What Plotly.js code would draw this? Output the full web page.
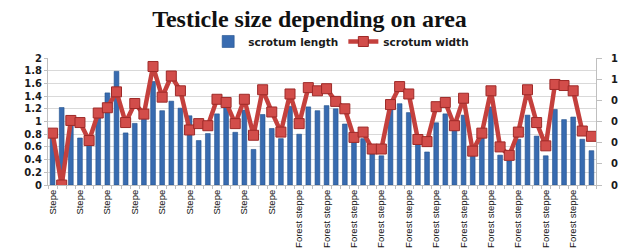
<!DOCTYPE html>
<html>
<head>
<meta charset="utf-8">
<script src="https://cdn.plot.ly/plotly-3.0.1.min.js"></script>
<style>
html,body{margin:0;padding:0;background:#fff;}
#chart{width:619px;height:248px;}
</style>
</head>
<body>
<div id="chart"></div>
<script>
// Area of each animal (60 animals)
const areas = [
  "Stepe","Stepe","Stepe","Stepe","Stepe","Stepe","Stepe","Stepe","Stepe","Stepe",
  "Stepe","Stepe","Stepe","Stepe","Stepe","Stepe","Stepe","Stepe","Stepe","Stepe",
  "Stepe","Stepe","Stepe","Stepe","Stepe","Stepe","Stepe",
  "Forest steppe","Forest steppe","Forest steppe","Forest steppe","Forest steppe","Forest steppe",
  "Forest steppe","Forest steppe","Forest steppe","Forest steppe","Forest steppe","Forest steppe",
  "Forest steppe","Forest steppe","Forest steppe","Forest steppe","Forest steppe","Forest steppe",
  "Forest steppe","Forest steppe","Forest steppe","Forest steppe","Forest steppe","Forest steppe",
  "Forest steppe","Forest steppe","Forest steppe","Forest steppe","Forest steppe","Forest steppe",
  "Forest steppe","Forest steppe","Forest steppe"
];

// scrotum length (left axis)
const scrotumLength = [
  0.76,1.22,1.00,0.74,0.68,1.08,1.45,1.79,0.82,0.97,
  1.08,1.63,1.17,1.32,1.21,1.09,0.70,0.81,1.12,1.23,
  0.83,1.18,0.56,1.11,0.89,0.73,1.24,0.80,1.23,1.17,
  1.25,1.20,0.96,0.69,0.73,0.49,0.46,1.22,1.28,1.14,
  0.70,0.52,0.98,1.12,0.90,1.10,0.47,0.74,1.23,0.47,
  0.38,0.72,1.10,0.77,0.46,1.19,1.03,1.07,0.72,0.54
];

// scrotum width (right axis)
const scrotumWidth = [
  0.49,0.00,0.61,0.59,0.42,0.68,0.73,0.88,0.59,0.77,
  0.67,1.12,0.83,1.03,0.89,0.52,0.58,0.56,0.81,0.78,
  0.58,0.81,0.47,0.90,0.69,0.50,0.86,0.58,0.92,0.89,
  0.91,0.79,0.72,0.45,0.50,0.34,0.34,0.76,0.93,0.86,
  0.43,0.41,0.74,0.78,0.56,0.82,0.32,0.49,0.89,0.36,
  0.28,0.50,0.90,0.59,0.37,0.95,0.94,0.89,0.51,0.46
];

// right axis tick values and the labels as visible in the chart
const rightTickVals = [0, 0.2, 0.4, 0.6, 0.8, 1.0, 1.2];
const rightTickLabels = ["0", "0", "0", "0", "0", "1", "1"];

const idx = areas.map((_, i) => i);
const labelStep = 3;
const tickVals = idx.filter(i => i % labelStep === 0);
const tickText = tickVals.map(i => areas[i]);

const traces = [
  {
    type: 'bar',
    name: 'scrotum length',
    x: idx,
    y: scrotumLength,
    marker: {color: '#386bb0', line: {color: '#22508c', width: 0.6}},
    yaxis: 'y'
  },
  {
    type: 'scatter',
    mode: 'lines+markers',
    name: 'scrotum width',
    x: idx,
    y: scrotumWidth,
    yaxis: 'y2',
    line: {color: '#c4403d', width: 4.5},
    marker: {symbol: 'square', size: 10, color: '#d24d4a', line: {color: '#9e2a28', width: 1}}
  }
];

const tickFont = {family: 'DejaVu Sans, Liberation Sans, sans-serif', size: 10, color: '#1a1a1a', weight: 'bold'};

const layout = {
  width: 619,
  height: 248,
  margin: {l: 48, r: 23, t: 58, b: 63},
  paper_bgcolor: '#ffffff',
  plot_bgcolor: '#ffffff',
  bargap: 0.48,
  showlegend: true,
  title: {
    text: '<b>Testicle size depending on area</b>',
    font: {family: 'Liberation Serif, Times New Roman, serif', size: 24, color: '#111'},
    x: 0.5, xanchor: 'center', xref: 'container',
    y: 0.925, yanchor: 'middle', yref: 'container'
  },
  legend: {
    orientation: 'h',
    x: 0.535, xanchor: 'center',
    y: 1.13, yanchor: 'middle',
    font: {family: 'DejaVu Sans, Liberation Sans, sans-serif', size: 10.5, color: '#1a1a1a', weight: 'bold'},
    itemwidth: 30,
    tracegroupgap: 0,
    bgcolor: 'rgba(0,0,0,0)'
  },
  xaxis: {
    range: [-0.5, areas.length - 0.5],
    tickmode: 'array',
    tickvals: tickVals,
    ticktext: tickText,
    tickangle: -90,
    tickfont: {family: 'Liberation Sans, Arial, sans-serif', size: 9.5, color: '#111'},
    ticks: '',
    showgrid: false,
    zeroline: false,
    showline: true,
    linecolor: '#bfbfbf',
    linewidth: 1,
    minor: {tickmode: 'linear', tick0: -0.5, dtick: 1, ticks: 'outside', ticklen: 3, tickcolor: '#bfbfbf', showgrid: false}
  },
  yaxis: {
    range: [0, 2],
    dtick: 0.2,
    tick0: 0,
    tickfont: tickFont,
    showgrid: true,
    gridcolor: '#d9d9d9',
    gridwidth: 1,
    zeroline: false,
    showline: true,
    linecolor: '#bfbfbf',
    ticks: 'outside',
    ticklen: 3,
    tickcolor: '#bfbfbf'
  },
  yaxis2: {
    range: [0, 1.2],
    tickmode: 'array',
    tickvals: rightTickVals,
    ticktext: rightTickLabels,
    overlaying: 'y',
    side: 'right',
    tickfont: tickFont,
    showgrid: false,
    zeroline: false,
    showline: true,
    linecolor: '#bfbfbf',
    ticks: 'outside',
    ticklen: 5,
    tickcolor: '#bfbfbf',
    ticklabelstandoff: 7
  }
};

Plotly.newPlot('chart', traces, layout, {displayModeBar: false, staticPlot: true});
</script>
</body>
</html>
